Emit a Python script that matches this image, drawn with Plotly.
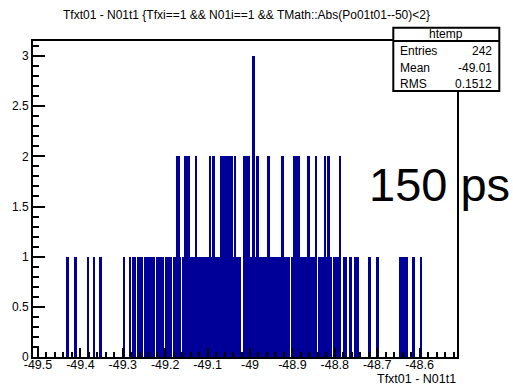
import plotly.graph_objects as go

# ---- data (histogram: runs of bins with the same count) ----
count1_lo = [-49.433, -49.415, -49.3845, -49.371, -49.356, -49.300,
             -49.285, -49.2782, -49.2657, -49.2502, -49.2217, -49.1997, -49.1807,
             -49.1607, -49.0177, -48.9027, -48.8897, -48.8392, -48.8031, -48.7817,
             -48.7677, -48.7557,
             -48.722, -48.704, -48.649, -48.638, -48.617, -48.600]
count1_hi = [-49.427, -49.407, -49.379, -49.365, -49.350, -49.294,
             -49.2808, -49.2683, -49.2528, -49.2243, -49.2023, -49.1833, -49.1633,
             -49.0203, -48.9053, -48.8923, -48.8418, -48.8057, -48.7843, -48.7703,
             -48.7583, -48.744,
             -48.7155, -48.696, -48.639, -48.6275, -48.612, -48.5936]
count2_lo = [-49.1736, -49.156, -49.1305, -49.097, -49.0888, -49.0716, -49.0378,
             -49.0166, -48.9867, -48.960, -48.926, -48.8987, -48.8648, -48.8475,
             -48.8263, -48.8176, -48.791]
count2_hi = [-49.166, -49.142, -49.124, -49.092, -49.0833, -49.040, -49.032,
             -49.0008, -48.979, -48.952, -48.9206, -48.883, -48.8593, -48.8421,
             -48.8199, -48.8122, -48.7862]
count3_lo = [-48.9945]
count3_hi = [-48.989]

x_tickvals = [-49.5, -49.4, -49.3, -49.2, -49.1, -49.0, -48.9, -48.8, -48.7, -48.6]
x_ticktext = ["-49.5", "-49.4", "-49.3", "-49.2", "-49.1", "-49", "-48.9", "-48.8", "-48.7", "-48.6"]
y_tickvals = [0, 0.5, 1, 1.5, 2, 2.5, 3]
y_ticktext = ["0", "0.5", "1", "1.5", "2", "2.5", "3"]

stats_names = ["Entries", "Mean", "RMS"]
stats_values = ["242", "-49.01", "0.1512"]

BAR = "#000099"
FONT = "Liberation Sans"

fig = go.Figure()
for lo, hi, c in [(count1_lo, count1_hi, 1), (count2_lo, count2_hi, 2), (count3_lo, count3_hi, 3)]:
    fig.add_trace(go.Bar(
        x=[(a + b) / 2 for a, b in zip(lo, hi)],
        y=[c] * len(lo),
        width=[b - a for a, b in zip(lo, hi)],
        marker=dict(color=BAR, line=dict(width=0)),
        showlegend=False,
    ))

# plot area in pixels
L, R, T, B = 33, 56, 41, 28
W, H = 513, 385
pw, ph = W - L - R, H - T - B

def px(x):
    return (x - L) / pw

def py(y):
    return (H - B - y) / ph

fig.update_layout(
    width=W, height=H,
    margin=dict(l=L, r=R, t=T, b=B, pad=0),
    paper_bgcolor="white", plot_bgcolor="white",
    barmode="overlay", bargap=0,
    font=dict(family=FONT, color="black"),
    xaxis=dict(range=[-49.5118, -48.5118], tickvals=x_tickvals, ticktext=x_ticktext,
               ticks="inside", ticklen=9, tickwidth=1.5, tickcolor="black",
               minor=dict(dtick=0.02, tick0=-49.5, ticks="inside", ticklen=5, tickwidth=1.5, tickcolor="black"),
               showline=True, linecolor="black", linewidth=2, mirror=True,
               ticklabelstandoff=-5,
               showgrid=False, zeroline=False, tickfont=dict(size=12.5, family=FONT)),
    yaxis=dict(range=[0, 3.15], tickvals=y_tickvals, ticktext=y_ticktext,
               ticks="inside", ticklen=12, tickwidth=1.5, tickcolor="black",
               minor=dict(dtick=0.1, tick0=0, ticks="inside", ticklen=6, tickwidth=1.5, tickcolor="black"),
               showline=True, linecolor="black", linewidth=2, mirror=True,
               showgrid=False, zeroline=False, tickfont=dict(size=12, family=FONT)),
)

ann = []
# title
ann.append(dict(text="Tfxt01 - N01t1 {Tfxi==1 &amp;&amp; N01i==1 &amp;&amp; TMath::Abs(Po01t01--50)&lt;2}",
                x=px(246), y=py(15), xref="paper", yref="paper", showarrow=False,
                xanchor="center", yanchor="middle", font=dict(size=12, family=FONT)))
# x axis title
ann.append(dict(text="Tfxt01 - N01t1", x=px(458), y=py(378.5), xref="paper", yref="paper",
                showarrow=False, xanchor="right", yanchor="middle", font=dict(size=12.5, family=FONT)))
# big label
ann.append(dict(text="150 ps", x=px(367), y=py(184), xref="paper", yref="paper",
                showarrow=False, xanchor="left", yanchor="middle", font=dict(size=47, family=FONT)))

# stats box
bx0, bx1, by0, by1, bsep = 393.3, 499.3, 27.7, 91, 41
shapes = [
    dict(type="rect", xref="paper", yref="paper", x0=px(bx0), x1=px(bx1), y0=py(by1), y1=py(by0),
         fillcolor="white", line=dict(color="black", width=2), layer="above"),
    dict(type="line", xref="paper", yref="paper", x0=px(bx0), x1=px(bx1), y0=py(bsep), y1=py(bsep),
         line=dict(color="black", width=2), layer="above"),
]
ann.append(dict(text="htemp", x=px((bx0 + bx1) / 2), y=py(34.5), xref="paper", yref="paper",
                showarrow=False, xanchor="center", yanchor="middle", font=dict(size=12, family=FONT)))
for i, (n, v) in enumerate(zip(stats_names, stats_values)):
    yy = 51.5 + i * 16.5
    ann.append(dict(text=n, x=px(397.5), y=py(yy), xref="paper", yref="paper", showarrow=False,
                    xanchor="left", yanchor="middle", font=dict(size=12, family=FONT)))
    ann.append(dict(text=v, x=px(494), y=py(yy), xref="paper", yref="paper", showarrow=False,
                    xanchor="right", yanchor="middle", font=dict(size=12, family=FONT)))

fig.update_layout(annotations=ann, shapes=shapes)
fig.write_html("out.html")
